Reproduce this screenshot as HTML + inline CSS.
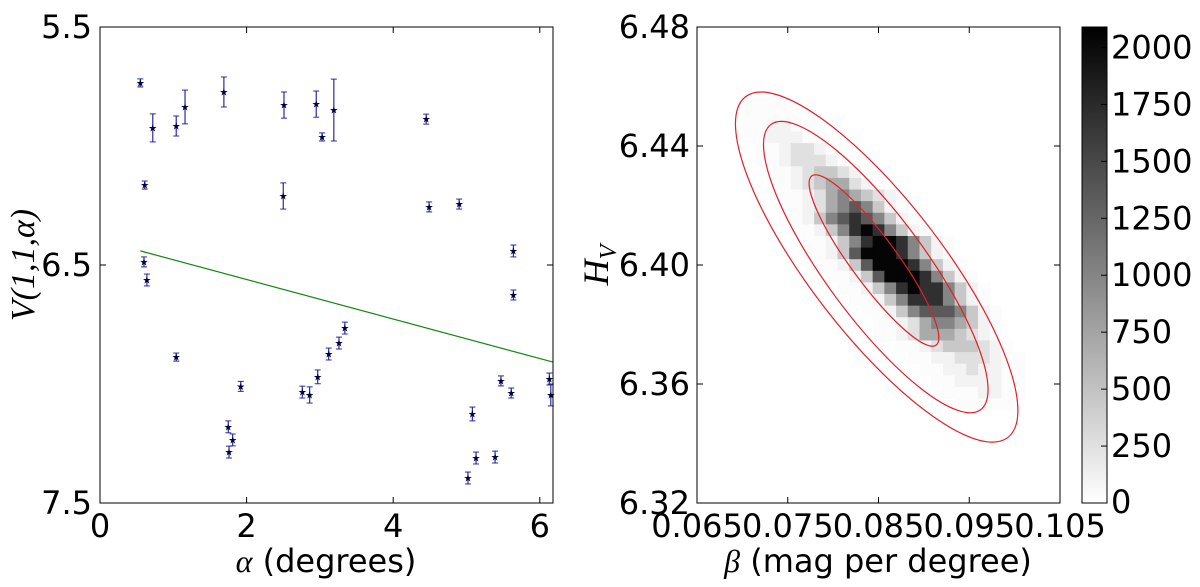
<!DOCTYPE html>
<html><head><meta charset="utf-8"><style>
body{margin:0;background:#fff;}
svg text{font-family:"DejaVu Sans","Liberation Sans",sans-serif;font-size:32px;fill:#000;}
</style></head><body>
<svg id="c" width="1200" height="582" xmlns="http://www.w3.org/2000/svg"></svg>
<script>
// ---- left panel data ----
const alphaVals=[0.55,0.72,0.61,0.60,0.64,1.04,1.16,1.04,1.69,1.75,1.76,1.81,1.92,2.51,2.50,2.76,2.86,2.95,2.97,3.03,3.19,3.12,3.26,3.34,4.45,4.49,4.90,5.02,5.08,5.13,5.39,5.47,5.61,5.64,5.64,6.13,6.15];
const magVals=[5.735,5.924,6.164,6.487,6.563,5.916,5.836,6.887,5.773,7.180,7.286,7.235,7.010,5.828,6.210,7.034,7.046,5.824,6.970,5.962,5.849,6.874,6.828,6.765,5.887,6.256,6.244,7.395,7.126,7.311,7.307,6.987,7.038,6.441,6.626,6.979,7.046];
const magErr=[0.017,0.059,0.017,0.021,0.025,0.042,0.071,0.017,0.063,0.025,0.025,0.025,0.021,0.055,0.055,0.025,0.034,0.055,0.029,0.017,0.130,0.025,0.025,0.025,0.021,0.021,0.021,0.025,0.029,0.025,0.025,0.021,0.021,0.025,0.021,0.025,0.046];
const fitH=6.395, fitBeta=0.083;
const leftXTicks=[0,2,4,6];
const leftYTicks=[5.5,6.5,7.5];
// ---- right panel data ----
const betaTicks=["0.065","0.075","0.085","0.095","0.105"];
const hTicks=["6.32","6.36","6.40","6.44","6.48"];
const cbTicks=[0,250,500,750,1000,1250,1500,1750,2000];
const histRowStart=[4,4,4,4,5,5,6,6,7,7,7,8,9,9,10,11,12,13,14,15,15,17,18,19,20,21,22];
const histRows=["1111","11111","112211","1122211","11233211","112333211","1123443211","1123455321","11235654321","11235676421","112467876421","112468986421","1124689986421","1124799986421","1124799986421","1124799986421","1124689886421","112468886421","112467776421","11235665421","11235554321","1123444321","1122333211","112232211","11222211","1112211","11111"];
const histRowFirst=6;
const histLevelCounts=[0,25,100,250,450,700,1000,1350,1700,2050];
// contours: center beta, center H, semi-major px, semi-minor px, angle deg
const contourBeta=[0.0845,0.0847,0.0848];
const contourH=[6.4015,6.3993,6.3993];
const contourA=[105,177,215];
const contourB=[23,50,66];
const contourAng=[53.7,53.7,52.4];

const NS="http://www.w3.org/2000/svg";
const svg=document.getElementById('c');
function mk(t,a,p){const e=document.createElementNS(NS,t);for(const k in a)e.setAttribute(k,a[k]);(p||svg).appendChild(e);return e;}

const L={x0:100,x1:553,y0:27,y1:503};
const ax=a=>L.x0+(a-0)/(6.18)*(L.x1-L.x0);
const ay=v=>L.y0+(v-5.5)/2*(L.y1-L.y0);
const R={x0:697,x1:1060,y0:27,y1:503};
const bx=b=>R.x0+(b-0.065)/0.04*(R.x1-R.x0);
const by=h=>R.y1-(h-6.32)/0.16*(R.y1-R.y0);
const cbTop=27,cbBot=503,cbMax=2090;
const cy=v=>cbBot-v/cbMax*(cbBot-cbTop);

// left panel
const gl=mk('g',{});


mk('rect',{x:L.x0,y:L.y0,width:L.x1-L.x0,height:L.y1-L.y0,fill:'#fff'},gl);
const fit=mk('line',{x1:ax(0.55),y1:ay(fitH+fitBeta*0.55),x2:ax(6.18),y2:ay(fitH+fitBeta*6.18),stroke:'#118811','stroke-width':1.2},gl);


alphaVals.forEach((a,i)=>{
  const g=mk('g',{},gl);
  
  
  const x=ax(a),yt=ay(magVals[i]-magErr[i]),yb=ay(magVals[i]+magErr[i]),y=ay(magVals[i]);
  mk('line',{x1:x,y1:yt,x2:x,y2:yb,stroke:'#2a2aa8','stroke-width':1.2},g);
  mk('line',{x1:x-3,y1:yt,x2:x+3,y2:yt,stroke:'#2a2aa8','stroke-width':1},g);
  mk('line',{x1:x-3,y1:yb,x2:x+3,y2:yb,stroke:'#2a2aa8','stroke-width':1},g);
  mk('text',{x:x,y:y+3.5,'text-anchor':'middle',style:'font-size:10px;fill:#000044'},g).textContent='★';
});
mk('rect',{x:L.x0,y:L.y0,width:L.x1-L.x0,height:L.y1-L.y0,fill:'none',stroke:'#000','stroke-width':1},gl);
leftXTicks.forEach(t=>{const x=ax(t);
  mk('line',{x1:x,y1:L.y1,x2:x,y2:L.y1-6,stroke:'#000'},gl);mk('line',{x1:x,y1:L.y0,x2:x,y2:L.y0+6,stroke:'#000'},gl);
  const tx=mk('text',{x:x,y:537,'text-anchor':'middle'},gl);tx.textContent=t;
  });
leftYTicks.forEach(t=>{const y=ay(t);
  mk('line',{x1:L.x0,y1:y,x2:L.x0+6,y2:y,stroke:'#000'},gl);mk('line',{x1:L.x1,y1:y,x2:L.x1-6,y2:y,stroke:'#000'},gl);
  const tx=mk('text',{x:92,y:y+11,'text-anchor':'end'},gl);tx.textContent=t.toFixed(1);
  });
const xl=mk('text',{x:326,y:572,'text-anchor':'middle'},gl);
xl.innerHTML='<tspan style="font-family:Liberation Serif,serif;font-style:italic">α</tspan> (degrees)';

const yl=mk('text',{x:0,y:0,'text-anchor':'middle',transform:'translate(34,265) rotate(-90)',style:'font-family:Liberation Serif,serif;font-style:italic;font-size:34px'},gl);
yl.textContent='V(1,1,α)';


// right panel
const gr=mk('g',{});


const cw=(R.x1-R.x0)/31, ch=(R.y1-R.y0)/41;
function gray(v){const c=Math.round(255*(1-v/cbMax));return `rgb(${c},${c},${c})`;}
histRows.forEach((s,ri)=>{const r=ri+histRowFirst;
  for(let k=0;k<s.length;k++){const v=histLevelCounts[+s[k]];if(!v)continue;
    const c=histRowStart[ri]+k;
    const cell=mk('rect',{x:R.x0+c*cw,y:R.y0+r*ch,width:cw+0.5,height:ch+0.5,fill:gray(v)},gr);
    
    }
});
contourBeta.forEach((b,i)=>{
  const e=mk('ellipse',{cx:0,cy:0,rx:contourA[i],ry:contourB[i],fill:'none',stroke:'#e0202a','stroke-width':1.2,transform:`translate(${bx(b)},${by(contourH[i])}) rotate(${contourAng[i]})`},gr);
  
  
});
mk('rect',{x:R.x0,y:R.y0,width:R.x1-R.x0,height:R.y1-R.y0,fill:'none',stroke:'#000','stroke-width':1},gr);
betaTicks.forEach(t=>{const x=bx(+t);
  mk('line',{x1:x,y1:R.y1,x2:x,y2:R.y1-6,stroke:'#000'},gr);mk('line',{x1:x,y1:R.y0,x2:x,y2:R.y0+6,stroke:'#000'},gr);
  const tx=mk('text',{x:x,y:537,'text-anchor':'middle'},gr);tx.textContent=t;
  });
hTicks.forEach(t=>{const y=by(+t);
  mk('line',{x1:R.x0,y1:y,x2:R.x0+6,y2:y,stroke:'#000'},gr);mk('line',{x1:R.x1,y1:y,x2:R.x1-6,y2:y,stroke:'#000'},gr);
  const tx=mk('text',{x:690,y:y+11,'text-anchor':'end'},gr);tx.textContent=t;
  });
const xl2=mk('text',{x:878,y:572,'text-anchor':'middle'},gr);
xl2.innerHTML='<tspan style="font-family:Liberation Serif,serif;font-style:italic">β</tspan> (mag per degree)';

const yl2=mk('text',{x:0,y:0,'text-anchor':'middle',transform:'translate(608,265) rotate(-90)',style:'font-family:Liberation Serif,serif;font-style:italic;font-size:36px'},gr);
yl2.innerHTML='H<tspan dy="8" style="font-size:24px">V</tspan>';


// colorbar
const gc=mk('g',{});


const defs=mk('defs',{});
const lg=mk('linearGradient',{id:'cbg',x1:0,y1:1,x2:0,y2:0},defs);
mk('stop',{offset:0,'stop-color':'#fff'},lg);mk('stop',{offset:1,'stop-color':'#000'},lg);
mk('rect',{x:1082,y:cbTop,width:25,height:cbBot-cbTop,fill:'url(#cbg)',stroke:'#000','stroke-width':1},gc);
cbTicks.forEach(t=>{const y=cy(t);
  mk('line',{x1:1101,y1:y,x2:1107,y2:y,stroke:'#000'},gc);
  const tx=mk('text',{x:1111,y:Math.min(y+11,513),'text-anchor':'start'},gc);tx.textContent=t;
  });
</script>
</body></html>
